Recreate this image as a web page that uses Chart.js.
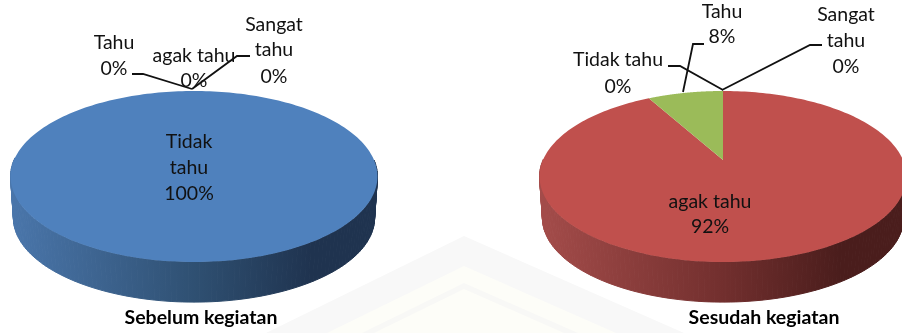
<!DOCTYPE html>
<html>
<head>
<meta charset="utf-8">
<title>Pengetahuan sebelum dan sesudah kegiatan</title>
<script src="https://cdn.jsdelivr.net/npm/chart.js@4"></script>
<style>
  html, body { margin: 0; padding: 0; background: #fff; overflow: hidden; }
  #wrap { position: relative; width: 902px; height: 333px; overflow: hidden; }
  canvas { position: absolute; top: 0; }
  #pieSebelum { left: 0; }
  #pieSesudah { left: 451px; }
  /* pita samar di belakang kedua pie */
  .pita { position: absolute; left: 0; top: 0; width: 902px; height: 333px; }
  #pita1 { background: #f8f8f8; clip-path: polygon(464px 236px, 684px 333px, 266px 333px); }
  #pita2 { background: #fdfdf8; clip-path: polygon(464px 266px, 616px 333px, 327px 333px); }
  #pita3 { background: #f8f8f6; clip-path: polygon(464px 283px, 578px 333px, 362px 333px); }
  #pita4 { background: #fdfdf8; clip-path: polygon(464px 289px, 564px 333px, 374px 333px); }
</style>
</head>
<body>
<div id="wrap">
  <div class="pita" id="pita1"></div>
  <div class="pita" id="pita2"></div>
  <div class="pita" id="pita3"></div>
  <div class="pita" id="pita4"></div>
  <canvas id="pieSebelum" width="451" height="333"></canvas>
  <canvas id="pieSesudah" width="451" height="333"></canvas>
</div>
<script>
const kategori = ['Tidak tahu', 'agak tahu', 'Tahu', 'Sangat tahu'];
const nilaiSebelum = [100, 0, 0, 0];
const nilaiSesudah = [0, 92, 8, 0];
const warna = ['#4f81bd', '#c0504d', '#9bbb59', '#8064a2'];

// warna sisi samping, dari kiri ke kanan
const warnaSisi = [
  ['#4a76ab', '#2f5072', '#1f334f'],
  ['#a44c4a', '#722f2e', '#4a1d1c'],
  ['#7f9a49', '#5a6e34', '#3d4a23'],
  ['#67518a', '#4a3a63', '#302641']
];

// kemiringan pie: lebar, tinggi dan perspektif terhadap radius
const skalaX = 1.125;
const skalaY = 0.5145;
const perspektif = -0.193;
const tebal = 42;
const LANGKAH = 240;

function titik(el, sudut, skala) {
  let u = Math.cos(sudut) * skala;
  let v = Math.sin(sudut) * skala;
  let w = 1 + perspektif * v;
  return {
    x: el.x + el.outerRadius * skalaX * u / w,
    y: el.y + el.outerRadius * skalaY * v / w
  };
}

function gambarSisi(ctx, el, warnaStop) {
  let kiri = el.x - el.outerRadius * skalaX * 1.02;
  let kanan = el.x + el.outerRadius * skalaX * 1.02;
  let g = ctx.createLinearGradient(kiri, 0, kanan, 0);
  g.addColorStop(0, warnaStop[0]);
  g.addColorStop(0.5, warnaStop[1]);
  g.addColorStop(0.82, warnaStop[2]);
  g.addColorStop(1, warnaStop[2]);
  ctx.fillStyle = g;
  ctx.strokeStyle = g;
  ctx.lineWidth = 1;

  // per potongan kecil, supaya bagian tepi kiri kanan ikut terisi
  for (let i = 0; i < LANGKAH; i++) {
    let a1 = el.startAngle + (el.endAngle - el.startAngle) * i / LANGKAH;
    let a2 = el.startAngle + (el.endAngle - el.startAngle) * (i + 1) / LANGKAH;
    // sisi belakang tertutup permukaan atas
    if (Math.sin(a1) < 0 && Math.sin(a2) < 0) continue;
    let p1 = titik(el, a1, 1);
    let p2 = titik(el, a2, 1);
    let q1 = titik(el, a1, 0.985);
    let q2 = titik(el, a2, 0.985);
    ctx.beginPath();
    ctx.moveTo(p1.x, p1.y);
    ctx.lineTo(p2.x, p2.y);
    ctx.lineTo(q2.x, q2.y + tebal);
    ctx.lineTo(q1.x, q1.y + tebal);
    ctx.closePath();
    ctx.fill();
    ctx.stroke();
  }
}

function gambarAtas(ctx, el, warnaIsi) {
  ctx.beginPath();
  ctx.moveTo(el.x, el.y);
  for (let i = 0; i <= LANGKAH; i++) {
    let a = el.startAngle + (el.endAngle - el.startAngle) * i / LANGKAH;
    let p = titik(el, a, 1);
    ctx.lineTo(p.x, p.y);
  }
  ctx.closePath();
  ctx.fillStyle = warnaIsi;
  ctx.fill();
}

const pie3d = {
  id: 'pie3d',
  beforeDatasetDraw(chart) {
    let ctx = chart.ctx;
    let arcs = chart.getDatasetMeta(0).data;
    ctx.save();
    arcs.forEach((el, i) => {
      if (el.endAngle > el.startAngle) gambarSisi(ctx, el, warnaSisi[i]);
    });
    arcs.forEach((el, i) => {
      if (el.endAngle > el.startAngle) gambarAtas(ctx, el, warna[i]);
    });
    ctx.restore();
    return false;
  }
};

const labelPie = {
  id: 'labelPie',
  afterDraw(chart, args, opts) {
    let ctx = chart.ctx;
    let nilai = chart.data.datasets[0].data;
    ctx.save();
    ctx.fillStyle = '#111';
    ctx.textAlign = 'center';
    ctx.textBaseline = 'middle';
    ctx.font = '19.5px Lato';
    opts.label.forEach(l => {
      let baris = l.baris.concat([nilai[l.i] + '%']);
      baris.forEach((t, n) => ctx.fillText(t, l.x, l.y[n]));
    });
    ctx.strokeStyle = '#111';
    ctx.lineWidth = 1.8;
    opts.garis.forEach(g => {
      ctx.beginPath();
      g.forEach((p, n) => n ? ctx.lineTo(p[0], p[1]) : ctx.moveTo(p[0], p[1]));
      ctx.stroke();
    });
    ctx.font = 'bold 19.5px Lato';
    ctx.fillStyle = '#000';
    ctx.fillText(opts.judul, opts.judulX, 318);
    ctx.restore();
  }
};

function buatPie(id, nilai, padding, labelOpts) {
  return new Chart(document.getElementById(id), {
    type: 'pie',
    data: {
      labels: kategori,
      datasets: [{ data: nilai, backgroundColor: warna, borderWidth: 0 }]
    },
    options: {
      responsive: false,
      animation: false,
      rotation: 0,
      layout: { padding: padding },
      plugins: {
        legend: { display: false },
        tooltip: { enabled: false },
        labelPie: labelOpts
      }
    },
    plugins: [pie3d, labelPie]
  });
}

buatPie('pieSebelum', nilaiSebelum, { left: 0, right: 63, top: 0, bottom: 13 }, {
  judul: 'Sebelum kegiatan',
  judulX: 201,
  label: [
    { i: 0, baris: ['Tidak', 'tahu'], x: 189, y: [142, 168, 194] },
    { i: 2, baris: ['Tahu'], x: 114, y: [43, 69] },
    { i: 1, baris: ['agak tahu'], x: 194, y: [56, 81] },
    { i: 3, baris: ['Sangat', 'tahu'], x: 274, y: [25, 50, 77] }
  ],
  garis: [
    [[132, 74], [143, 74], [192, 89]],
    [[250, 56], [237, 56], [192, 89]]
  ]
});

// koordinat kanvas kedua mulai dari x = 451
buatPie('pieSesudah', nilaiSesudah, { left: 93, right: 0, top: 0, bottom: 13 }, {
  judul: 'Sesudah kegiatan',
  judulX: 313,
  label: [
    { i: 1, baris: ['agak tahu'], x: 259, y: [202, 227] },
    { i: 2, baris: ['Tahu'], x: 271, y: [12, 37] },
    { i: 0, baris: ['Tidak tahu'], x: 167, y: [60, 87] },
    { i: 3, baris: ['Sangat', 'tahu'], x: 395, y: [15, 41, 67] }
  ],
  garis: [
    [[253, 44], [242, 44], [232, 92]],
    [[217, 66], [229, 66], [272, 90]],
    [[371, 45], [359, 45], [271, 90]]
  ]
});
</script>
</body>
</html>
